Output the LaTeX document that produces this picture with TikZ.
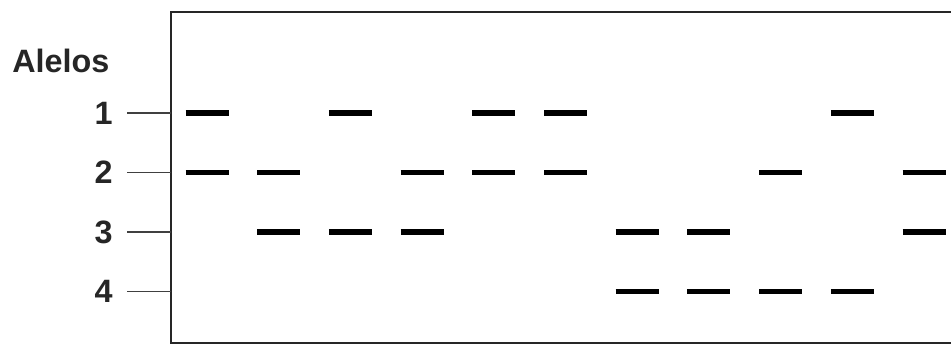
\documentclass[tikz,border=0pt]{standalone}
\usepackage{fontspec}
\setmainfont{Liberation Sans}
\usetikzlibrary{calc}

\begin{document}
\begin{tikzpicture}[x=0.025cm, y=-0.025cm,
  band/.style={line width=3.8pt},
  tickline/.style={black!75, line width=0.8pt},
  label/.style={inner sep=0pt, font=\fontsize{23}{27}\selectfont\bfseries, text=black!85}]
\useasboundingbox (0,0) rectangle (951,347);
% gel frame, open on the right
\draw[line width=1.6pt, black!85] (990,12) -- (171,12) -- (171,343) -- (990,343);
\node[label, anchor=base west] (alelos) at (12,73) {Alelos};
\foreach \r in {1,2,3,4} {
  \pgfmathsetmacro\ry{113+59.5*(\r-1)}
  \node[label, anchor=east] (a\r) at (113,\ry) {\r};
  \coordinate (g\r) at (171,\ry);
  \draw[tickline] ($(a\r.east)+(14,0)$) -- (g\r);
}
% bands per lane
\foreach \lane/\rows in {1/{1,2}, 2/{2,3}, 3/{1,3}, 4/{2,3}, 5/{1,2}, 6/{1,2},
                         7/{3,4}, 8/{3,4}, 9/{2,4}, 10/{1,4}, 11/{2,3}} {
  \pgfmathsetmacro\lx{207+71.7*(\lane-1)}
  \foreach \r in \rows {
    \pgfmathsetmacro\ry{113+59.5*(\r-1)}
    \draw[band] (\lx-21.5,\ry) -- (\lx+21.5,\ry);
  }
}
\end{tikzpicture}
\end{document}
